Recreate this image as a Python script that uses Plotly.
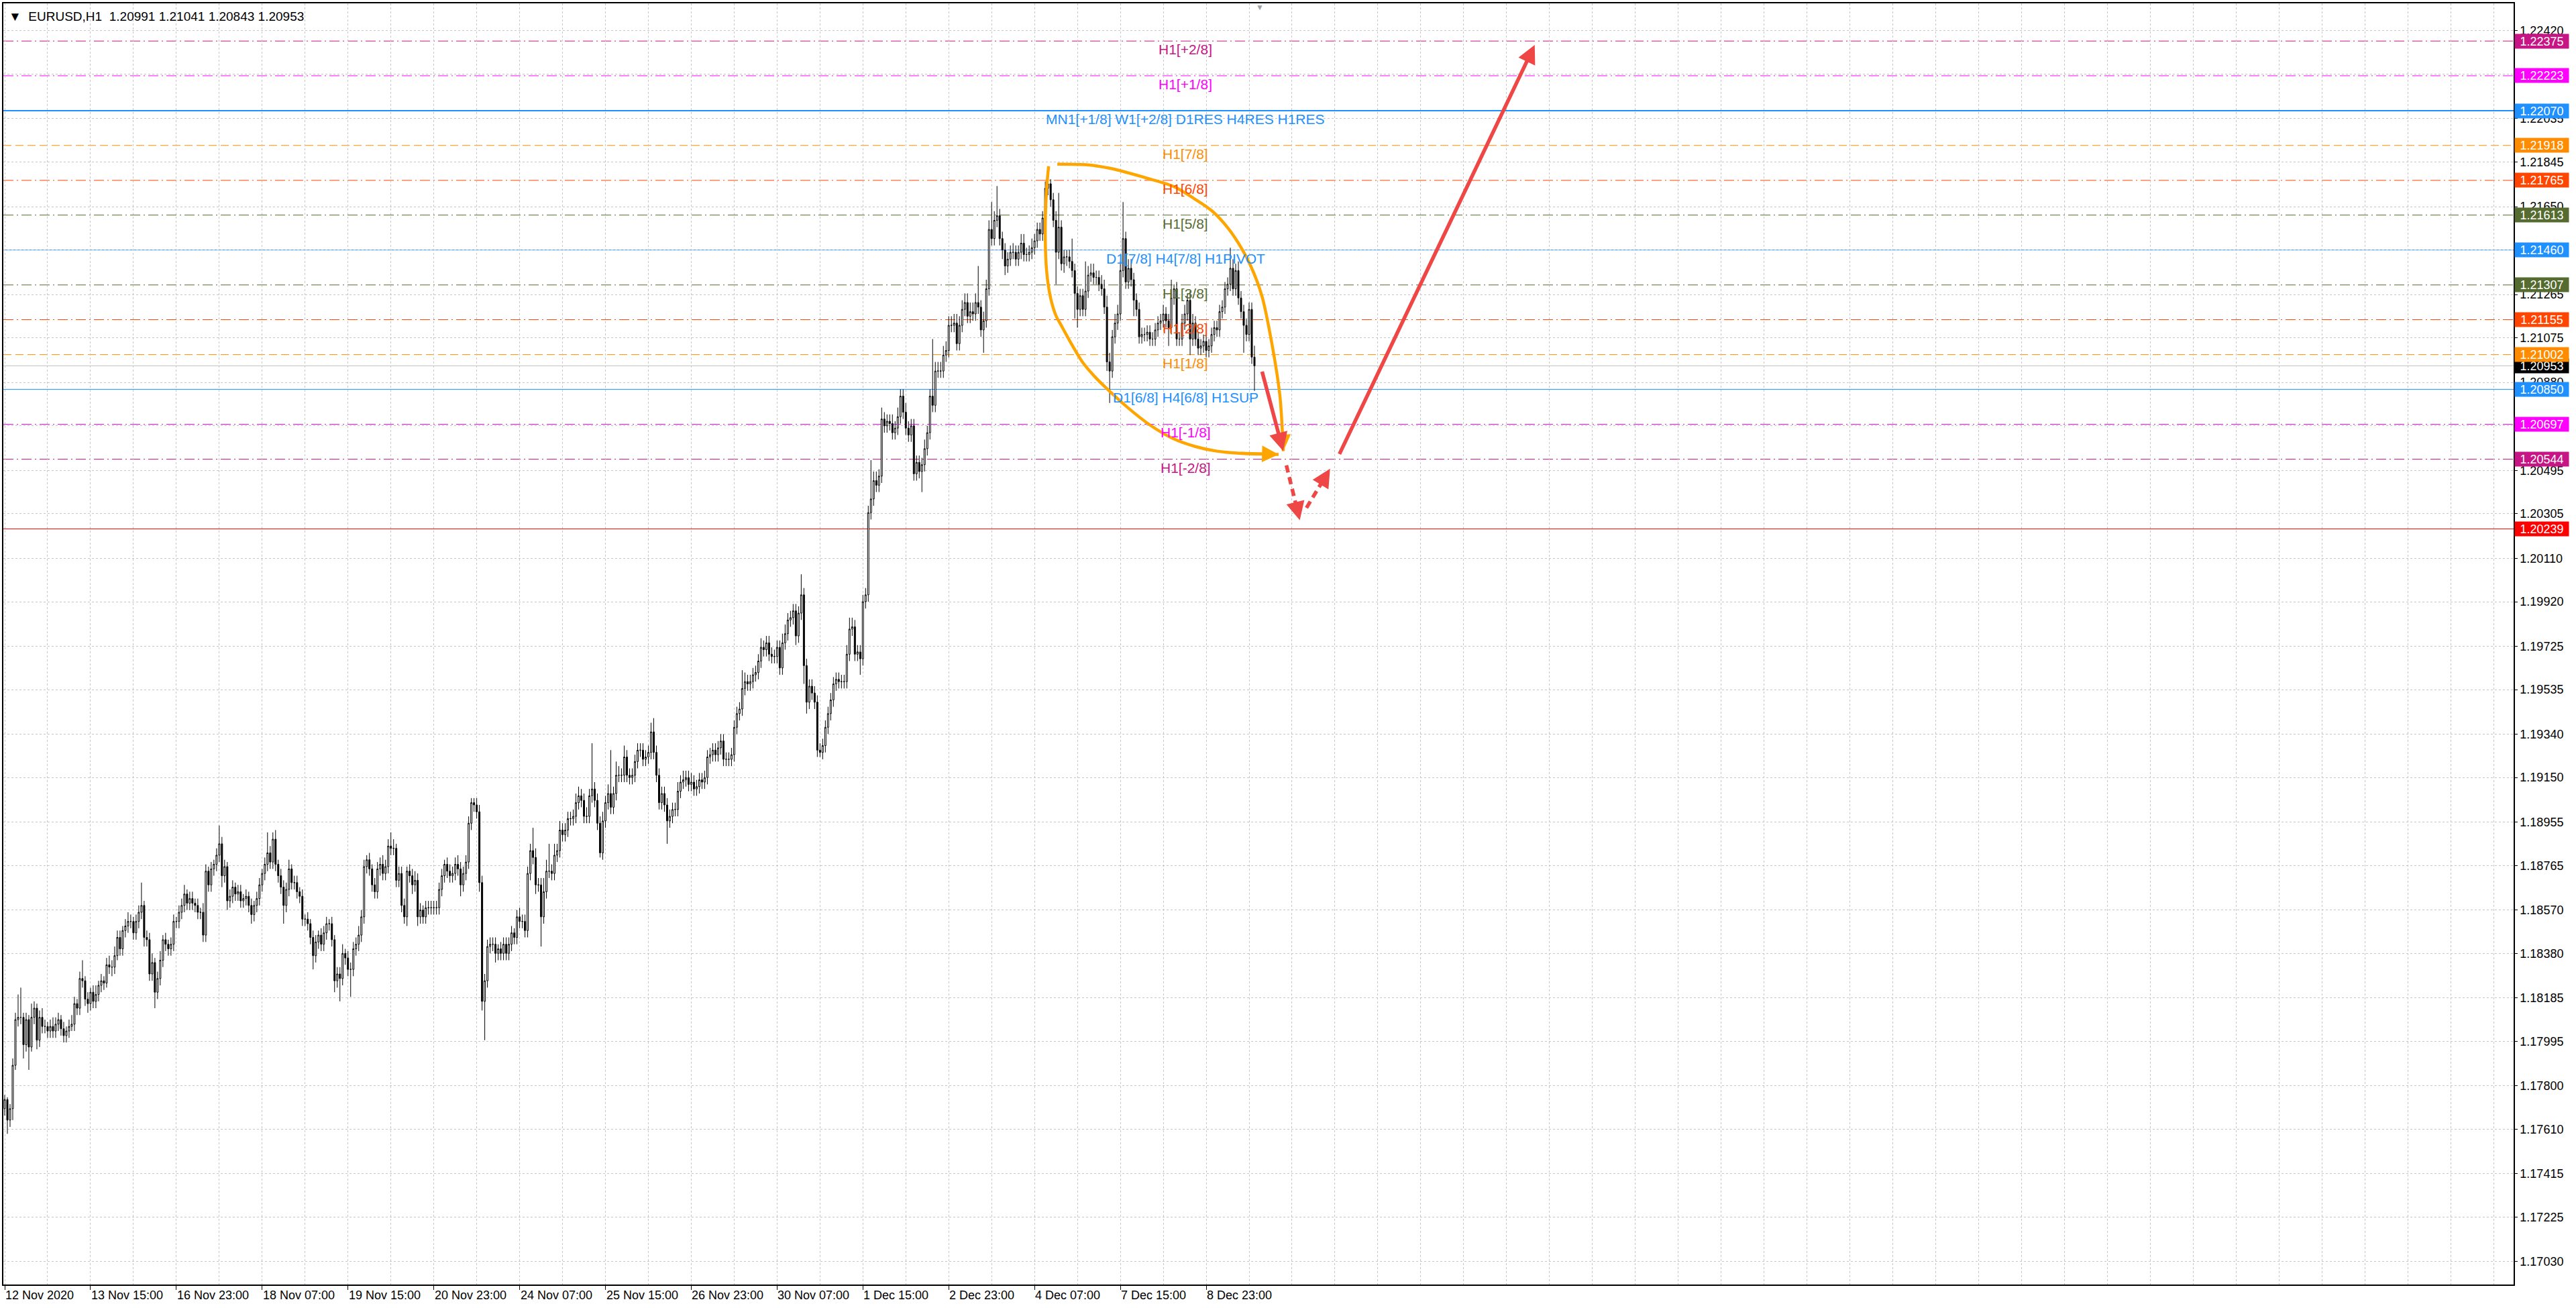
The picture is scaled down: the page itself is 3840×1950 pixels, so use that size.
import plotly.graph_objects as go

# ---------------- data (prices in pips above BASE) ----------------
BASE = 1.17
PIP = 0.0001
FIRST_OPEN = 70

CLOSE_PIPS = [
    74, 65, 70, 89, 109, 110, 110, 98, 109, 97, 110, 114, 100, 110, 106, 106, 104, 106, 104, 107,
    109, 105, 102, 104, 106, 107, 116, 114, 127, 126, 118, 116, 121, 117, 120, 124, 126, 125, 133, 132,
    132, 137, 145, 140, 148, 150, 152, 152, 147, 152, 156, 159, 145, 144, 129, 134, 121, 127, 135, 144,
    142, 140, 142, 152, 152, 156, 159, 164, 160, 162, 160, 159, 156, 156, 146, 174, 168, 175, 177, 181,
    186, 172, 176, 161, 163, 167, 164, 165, 161, 162, 163, 159, 155, 159, 162, 168, 173, 177, 182, 178,
    188, 177, 172, 167, 159, 166, 175, 169, 169, 165, 163, 153, 153, 151, 145, 137, 143, 146, 142, 147,
    151, 151, 144, 126, 129, 127, 138, 136, 131, 131, 140, 142, 146, 154, 176, 179, 175, 168, 165, 175,
    177, 173, 176, 185, 184, 184, 170, 173, 159, 154, 174, 172, 168, 170, 154, 157, 154, 158, 158, 158,
    158, 158, 166, 172, 177, 174, 172, 173, 177, 175, 168, 173, 178, 195, 204, 203, 200, 169, 117, 126,
    141, 142, 142, 138, 140, 138, 142, 138, 142, 147, 145, 154, 152, 152, 148, 173, 183, 180, 168, 168,
    154, 165, 174, 174, 173, 181, 183, 192, 190, 192, 197, 197, 198, 204, 207, 205, 198, 198, 207, 210,
    205, 195, 182, 196, 204, 208, 202, 208, 216, 216, 216, 224, 216, 215, 216, 222, 227, 227, 223, 224,
    226, 235, 226, 216, 204, 208, 203, 196, 198, 201, 201, 209, 213, 214, 215, 212, 213, 210, 211, 214,
    213, 215, 224, 225, 227, 225, 228, 231, 223, 223, 223, 225, 237, 243, 245, 254, 257, 256, 257, 260,
    261, 266, 272, 271, 274, 269, 268, 268, 272, 263, 274, 278, 284, 285, 288, 277, 287, 295, 264, 248,
    255, 252, 248, 227, 226, 229, 237, 243, 249, 256, 258, 257, 257, 257, 269, 280, 281, 269, 270, 267,
    292, 295, 331, 337, 345, 343, 347, 372, 369, 371, 370, 366, 368, 373, 382, 375, 368, 365, 369, 348,
    353, 349, 352, 359, 366, 382, 378, 393, 393, 393, 400, 402, 413, 413, 414, 405, 413, 420, 423, 417,
    419, 418, 423, 421, 411, 415, 429, 455, 451, 459, 461, 451, 446, 439, 442, 445, 445, 442, 445, 449,
    444, 444, 445, 447, 450, 455, 453, 460, 473, 475, 468, 459, 445, 456, 440, 443, 443, 441, 437, 427,
    420, 426, 420, 428, 435, 436, 434, 434, 431, 429, 421, 397, 393, 408, 414, 418, 437, 451, 432, 438,
    433, 424, 420, 408, 409, 409, 410, 407, 407, 411, 414, 415, 418, 415, 412, 425, 429, 407, 407, 414,
    418, 424, 407, 414, 407, 403, 404, 406, 402, 404, 409, 412, 411, 419, 421, 429, 431, 438, 429, 437,
    425, 419, 413, 409, 420, 399.1, 395.3,
]

UP_WICK = [
    2, 1, 2, 3, 3, 10, 13, 2, 3, 2, 6, 3, 2, 3, 4, 3, 2, 3, 4, 3,
    3, 2, 3, 2, 3, 4, 3, 2, 3, 8, 2, 3, 2, 3, 4, 2, 3, 2, 3, 4,
    3, 4, 3, 3, 2, 3, 4, 3, 2, 3, 3, 10, 2, 3, 3, 4, 2, 3, 4, 2,
    3, 2, 3, 3, 2, 3, 3, 4, 2, 3, 3, 2, 3, 2, 4, 3, 2, 3, 2, 3,
    8, 3, 3, 2, 3, 3, 2, 3, 3, 2, 3, 2, 3, 2, 3, 3, 2, 3, 9, 3,
    3, 4, 2, 3, 3, 3, 4, 2, 3, 3, 2, 3, 2, 3, 2, 3, 3, 2, 3, 3,
    3, 2, 3, 2, 3, 3, 4, 2, 3, 3, 3, 3, 4, 3, 3, 2, 3, 2, 3, 3,
    3, 4, 3, 3, 6, 4, 2, 3, 3, 3, 2, 3, 3, 4, 3, 3, 2, 3, 3, 3,
    3, 3, 3, 3, 2, 3, 3, 3, 3, 4, 3, 3, 3, 3, 2, 2, 3, 3, 3, 3,
    3, 3, 3, 3, 2, 3, 3, 3, 3, 3, 2, 3, 4, 3, 3, 3, 3, 10, 4, 3,
    3, 6, 5, 12, 3, 5, 3, 4, 3, 3, 3, 3, 3, 4, 4, 3, 3, 4, 3, 20,
    3, 3, 3, 4, 3, 4, 19, 3, 6, 4, 3, 5, 3, 3, 3, 3, 3, 3, 3, 3,
    3, 4, 6, 3, 3, 3, 3, 3, 3, 3, 3, 4, 3, 4, 3, 3, 4, 3, 3, 3,
    3, 3, 3, 3, 3, 3, 3, 3, 3, 3, 3, 3, 3, 3, 3, 8, 4, 3, 3, 3,
    3, 3, 4, 3, 3, 3, 3, 3, 3, 3, 4, 4, 3, 3, 3, 3, 3, 9, 3, 3,
    3, 3, 3, 3, 3, 3, 3, 3, 3, 3, 3, 3, 3, 3, 4, 5, 4, 3, 3, 3,
    3, 3, 3, 17, 4, 4, 3, 5, 3, 3, 3, 4, 3, 4, 3, 3, 4, 3, 3, 3,
    3, 3, 3, 4, 3, 3, 25, 4, 4, 4, 4, 4, 4, 4, 4, 4, 4, 4, 4, 4,
    4, 4, 4, 16, 3, 4, 4, 4, 12, 4, 13, 3, 3, 3, 3, 3, 4, 3, 3, 4,
    4, 3, 3, 4, 3, 3, 3, 3, 3, 2, 2, 3, 4, 15, 3, 3, 3, 3, 10, 3,
    3, 3, 3, 13, 4, 4, 4, 3, 3, 4, 4, 5, 4, 3, 4, 4, 4, 16, 3, 4,
    4, 3, 3, 3, 3, 3, 3, 3, 3, 3, 3, 3, 4, 3, 3, 8, 2, 3, 3, 4,
    4, 3, 4, 4, 3, 3, 3, 3, 3, 3, 3, 3, 3, 3, 3, 3, 3, 9, 4, 3,
    4, 3, 3, 3, 3, 3, 5,
]

DN_WICK = [
    3, 6, 3, 5, 2, 3, 3, 6, 3, 10, 2, 3, 4, 3, 3, 3, 3, 3, 3, 3,
    3, 3, 3, 3, 3, 2, 3, 3, 3, 3, 3, 4, 3, 3, 3, 3, 3, 3, 2, 3,
    4, 3, 2, 3, 3, 3, 3, 3, 3, 3, 3, 3, 4, 3, 3, 3, 7, 3, 3, 3,
    3, 3, 3, 3, 3, 3, 3, 3, 3, 3, 3, 3, 3, 3, 3, 3, 3, 3, 3, 3,
    3, 5, 3, 4, 3, 3, 3, 3, 3, 3, 3, 3, 4, 3, 3, 3, 3, 3, 3, 3,
    3, 3, 3, 3, 8, 3, 3, 3, 3, 3, 3, 3, 3, 3, 3, 6, 3, 3, 3, 3,
    3, 3, 3, 5, 3, 10, 3, 3, 3, 12, 3, 3, 3, 3, 3, 3, 3, 3, 3, 3,
    3, 3, 3, 3, 3, 3, 3, 3, 3, 3, 4, 3, 4, 3, 4, 3, 3, 3, 3, 3,
    3, 3, 3, 3, 3, 3, 3, 3, 3, 3, 5, 3, 3, 3, 3, 3, 3, 4, 4, 17,
    3, 3, 3, 4, 3, 3, 3, 3, 3, 3, 3, 3, 3, 3, 3, 3, 3, 3, 4, 3,
    13, 3, 3, 3, 3, 3, 3, 3, 3, 3, 3, 3, 3, 3, 3, 3, 3, 3, 3, 3,
    3, 3, 2, 3, 3, 3, 3, 3, 3, 3, 3, 3, 3, 3, 3, 3, 3, 3, 3, 3,
    3, 3, 3, 3, 3, 3, 3, 10, 3, 3, 3, 3, 3, 3, 3, 3, 3, 3, 3, 3,
    3, 3, 3, 3, 3, 3, 3, 3, 3, 3, 3, 3, 3, 3, 3, 3, 3, 3, 3, 3,
    3, 3, 3, 3, 3, 3, 3, 3, 3, 3, 3, 3, 3, 3, 3, 4, 3, 3, 8, 5,
    3, 3, 3, 3, 2, 3, 3, 3, 3, 3, 3, 3, 3, 3, 3, 3, 3, 3, 3, 7,
    3, 3, 3, 3, 3, 3, 3, 3, 3, 3, 3, 3, 3, 3, 3, 3, 3, 3, 3, 3,
    3, 3, 9, 3, 3, 3, 3, 3, 3, 3, 3, 3, 3, 3, 3, 3, 3, 3, 3, 3,
    3, 3, 3, 3, 3, 10, 3, 3, 3, 3, 3, 3, 4, 4, 3, 3, 3, 3, 3, 3,
    3, 3, 3, 3, 3, 3, 3, 3, 3, 3, 3, 3, 14, 3, 3, 4, 4, 3, 3, 11,
    8, 3, 3, 3, 3, 3, 3, 3, 3, 3, 3, 4, 14, 3, 3, 3, 3, 3, 3, 3,
    3, 7, 3, 3, 3, 3, 3, 3, 3, 3, 3, 3, 3, 3, 8, 3, 3, 3, 3, 3,
    3, 3, 7, 3, 3, 3, 3, 3, 3, 3, 3, 3, 3, 3, 3, 3, 3, 3, 3, 3,
    3, 3, 12, 3, 3, 3, 11,
]

X_LABELS = ["12 Nov 2020", "13 Nov 15:00", "16 Nov 23:00", "18 Nov 07:00", "19 Nov 15:00",
            "20 Nov 23:00", "24 Nov 07:00", "25 Nov 15:00", "26 Nov 23:00", "30 Nov 07:00",
            "1 Dec 15:00", "2 Dec 23:00", "4 Dec 07:00", "7 Dec 15:00", "8 Dec 23:00"]
BARS_PER_LABEL = 32
BARS_PER_GRID = 16

Y_TICKS = [1.22420, 1.22230, 1.22035, 1.21845, 1.21650, 1.21460, 1.21265, 1.21075, 1.20880,
           1.20690, 1.20495, 1.20305, 1.20110, 1.19920, 1.19725, 1.19535, 1.19340, 1.19150,
           1.18955, 1.18765, 1.18570, 1.18380, 1.18185, 1.17995, 1.17800, 1.17610, 1.17415,
           1.17225, 1.17030]

LEVEL_PRICES = [1.22375, 1.22223, 1.22070, 1.21918, 1.21765, 1.21613, 1.21460,
                1.21307, 1.21155, 1.21002, 1.20850, 1.20697, 1.20544]
LEVEL_TEXT = ["H1[+2/8]", "H1[+1/8]", "MN1[+1/8] W1[+2/8] D1RES H4RES H1RES", "H1[7/8]",
              "H1[6/8]", "H1[5/8]", "D1[7/8] H4[7/8] H1PIVOT", "H1[3/8]", "H1[2/8]",
              "H1[1/8]", "D1[6/8] H4[6/8] H1SUP", "H1[-1/8]", "H1[-2/8]"]
LEVEL_COLORS = ["#C71585", "#FF00FF", "#1E90FF", "#FF8C00", "#FF4500", "#556B2F", "#1E90FF",
                "#556B2F", "#FF4500", "#FF8C00", "#1E90FF", "#FF00FF", "#C71585"]
LEVEL_DASH = ["15px,5px,2px,5px", "15px,5px,2px,5px", "solid", "12px,6px",
              "15px,5px,2px,5px", "15px,5px,2px,5px", "solid", "15px,5px,2px,5px",
              "15px,5px,2px,5px", "12px,6px", "solid", "15px,5px,2px,5px", "15px,5px,2px,5px"]
LEVEL_WIDTH = [1, 1, 2, 1, 1, 1, 1, 1, 1, 1, 1, 1, 1]

CURRENT_PRICE = 1.20953
STOP_PRICE = 1.20239
TITLE_SYMBOL = "EURUSD,H1"
TITLE_OHLC = ["1.20991", "1.21041", "1.20843", "1.20953"]

# hand-drawn annotations (bar index, price)
ARC_TOP_X = [392.5, 403.75, 412.0, 427.0, 436.25, 443.75, 450.25, 456.25, 461.25, 464.5,
             468.75, 473.0, 475.5, 476.5, 476.75]
ARC_TOP_Y = [1.21836, 1.21833, 1.21818, 1.21771, 1.21736, 1.21683, 1.21630, 1.21554, 1.21466,
             1.21393, 1.21260, 1.21017, 1.20820, 1.20644, 1.20579]
ARC_BOT_X = [389.25, 388.5, 388.0, 388.5, 390.0, 392.0, 393.75, 397.75, 402.0, 406.25, 410.5,
             418.75, 427.0, 435.5, 443.75, 452.0, 460.5, 475.0]
ARC_BOT_Y = [1.21827, 1.21727, 1.21548, 1.21369, 1.21249, 1.21172, 1.21134, 1.21049, 1.20967,
             1.20908, 1.20858, 1.20770, 1.20694, 1.20635, 1.20600, 1.20579, 1.20570, 1.20565]
# red arrows: (x_from, y_from, x_to, y_to, dashed)
RED_ARROWS = [
    (468.75, 1.20932, 476.7, 1.20580, False),
    (477.9, 1.20517, 482.9, 1.20277, True),
    (485.4, 1.20331, 494.2, 1.20502, True),
    (497.5, 1.20562, 570.5, 1.22358, False),
]

# ---------------- layout constants ----------------
W, H = 3840, 1950
X_RANGE = [-0.5, 935.5]
Y_RANGE = [1.16930, 1.22540]
LABEL_X = 440.25
FONT = "Liberation Sans"
GRID = "#C6C6C6"
ORANGE = "#FFA500"
RED = "#EF4646"

# ---------------- build candles ----------------
n = len(CLOSE_PIPS)
opens_p = [FIRST_OPEN] + CLOSE_PIPS[:-1]
highs_p = [max(o, c) + u for o, c, u in zip(opens_p, CLOSE_PIPS, UP_WICK)]
lows_p = [min(o, c) - d for o, c, d in zip(opens_p, CLOSE_PIPS, DN_WICK)]
to_price = lambda v: round(BASE + v * PIP, 5)
xs = list(range(n))

fig = go.Figure()

fig.add_trace(go.Candlestick(
    x=xs,
    open=[to_price(v) for v in opens_p],
    high=[to_price(v) for v in highs_p],
    low=[to_price(v) for v in lows_p],
    close=[to_price(v) for v in CLOSE_PIPS],
    increasing=dict(line=dict(color="black", width=1), fillcolor="white"),
    decreasing=dict(line=dict(color="black", width=1), fillcolor="black"),
    whiskerwidth=0,
    hoverinfo="skip",
    showlegend=False,
))

# orange hand-drawn curves
for cx, cy in ((ARC_TOP_X, ARC_TOP_Y), (ARC_BOT_X, ARC_BOT_Y)):
    fig.add_trace(go.Scatter(x=cx, y=cy, mode="lines",
                             line=dict(color=ORANGE, width=4.5, shape="spline", smoothing=0.9),
                             hoverinfo="skip", showlegend=False))

annotations = []
for cx, cy in ((ARC_TOP_X, ARC_TOP_Y), (ARC_BOT_X, ARC_BOT_Y)):
    annotations.append(dict(x=cx[-1], y=cy[-1], ax=cx[-2], ay=cy[-2], xref="x", yref="y",
                            axref="x", ayref="y", text="", showarrow=True, arrowhead=2,
                            arrowsize=1.1, arrowwidth=4.5, arrowcolor=ORANGE))

# red arrows
for x0, y0, x1, y1, dashed in RED_ARROWS:
    if dashed:
        fx = x0 + (x1 - x0) * 0.72
        fy = y0 + (y1 - y0) * 0.72
        fig.add_trace(go.Scatter(x=[x0, fx], y=[y0, fy], mode="lines",
                                 line=dict(color=RED, width=5.5, dash="11px,7px"),
                                 hoverinfo="skip", showlegend=False))
        annotations.append(dict(x=x1, y=y1, ax=fx, ay=fy, xref="x", yref="y", axref="x",
                                ayref="y", text="", showarrow=True, arrowhead=2, arrowsize=1,
                                arrowwidth=5.5, arrowcolor=RED))
    else:
        annotations.append(dict(x=x1, y=y1, ax=x0, ay=y0, xref="x", yref="y", axref="x",
                                ayref="y", text="", showarrow=True, arrowhead=2, arrowsize=1,
                                arrowwidth=5.5, arrowcolor=RED))

# horizontal level lines
shapes = []
for p, col, dash, wdt in zip(LEVEL_PRICES, LEVEL_COLORS, LEVEL_DASH, LEVEL_WIDTH):
    shapes.append(dict(type="line", xref="paper", x0=0, x1=1, yref="y", y0=p, y1=p,
                       line=dict(color=col, width=wdt, dash=dash), layer="between"))
shapes.append(dict(type="line", xref="paper", x0=0, x1=1, yref="y", y0=CURRENT_PRICE,
                   y1=CURRENT_PRICE, line=dict(color="#C0C0C0", width=1), layer="between"))
shapes.append(dict(type="line", xref="paper", x0=0, x1=1, yref="y", y0=STOP_PRICE,
                   y1=STOP_PRICE, line=dict(color="#FF0000", width=1), layer="between"))

# level texts
for p, txt, col in zip(LEVEL_PRICES, LEVEL_TEXT, LEVEL_COLORS):
    annotations.append(dict(x=LABEL_X, y=p, xref="x", yref="y", text=txt, showarrow=False,
                            xanchor="center", yanchor="top", yshift=1,
                            font=dict(family=FONT, size=21, color=col)))

# right-side price boxes
def price_box(p, col):
    return dict(x=1, y=p, xref="paper", yref="y", text=f"{p:.5f}", showarrow=False,
                xanchor="left", yanchor="middle", xshift=1, width=80, height=21,
                bgcolor=col, borderpad=0, align="center",
                font=dict(family=FONT, size=18, color="white"))

annotations.append(price_box(CURRENT_PRICE, "#000000"))
for p, col in zip(LEVEL_PRICES, LEVEL_COLORS):
    annotations.append(price_box(p, col))
annotations.append(price_box(STOP_PRICE, "#FF0000"))

# date labels (left aligned at their tick)
for i, lab in enumerate(X_LABELS):
    annotations.append(dict(x=i * BARS_PER_LABEL, y=0, xref="x", yref="paper", text=lab,
                            showarrow=False, xanchor="left", yanchor="top", yshift=-4,
                            xshift=-1, font=dict(family=FONT, size=18, color="black")))

# title
annotations.append(dict(x=0, y=1, xref="paper", yref="paper",
                        text="▼\u00a0\u00a0" + TITLE_SYMBOL + "\u00a0\u00a0" + " ".join(TITLE_OHLC),
                        showarrow=False, xanchor="left", yanchor="top", xshift=6, yshift=-7,
                        font=dict(family=FONT, size=19, color="black")))

# chart-shift marker
annotations.append(dict(x=n + 1, y=1, xref="x", yref="paper", text="▼", showarrow=False,
                        xanchor="center", yanchor="top", yshift=3,
                        font=dict(family=FONT, size=12, color="#A0A0A0")))

fig.update_layout(
    width=W, height=H,
    margin=dict(l=3, r=93, t=4, b=35, pad=0),
    paper_bgcolor="white", plot_bgcolor="white",
    showlegend=False,
    font=dict(family=FONT, size=18, color="black"),
    shapes=shapes,
    annotations=annotations,
    hovermode=False,
)

fig.update_xaxes(
    range=X_RANGE, rangeslider=dict(visible=False),
    tickmode="array", tickvals=[i * BARS_PER_LABEL for i in range(len(X_LABELS))],
    showticklabels=False, ticks="outside", ticklen=6, tickcolor="black", tickwidth=1,
    showgrid=True, gridcolor=GRID, griddash="3px,3px", gridwidth=1,
    minor=dict(tick0=0, dtick=BARS_PER_GRID, showgrid=True, gridcolor=GRID,
               griddash="3px,3px", ticks=""),
    showline=True, linecolor="black", linewidth=1.5, mirror=True,
    zeroline=False, fixedrange=True,
)

fig.update_yaxes(
    range=Y_RANGE, side="right",
    tickmode="array", tickvals=Y_TICKS, ticktext=[f"{v:.5f}" for v in Y_TICKS],
    ticks="outside", ticklen=4, tickcolor="black",
    tickfont=dict(family=FONT, size=18, color="black"),
    showgrid=True, gridcolor=GRID, griddash="3px,3px", gridwidth=1,
    showline=True, linecolor="black", linewidth=1.5, mirror=True,
    zeroline=False, fixedrange=True,
)

fig.write_html("out.html", config={"displayModeBar": False},
               post_script="document.body.style.margin='0';document.body.style.overflow='hidden';")
